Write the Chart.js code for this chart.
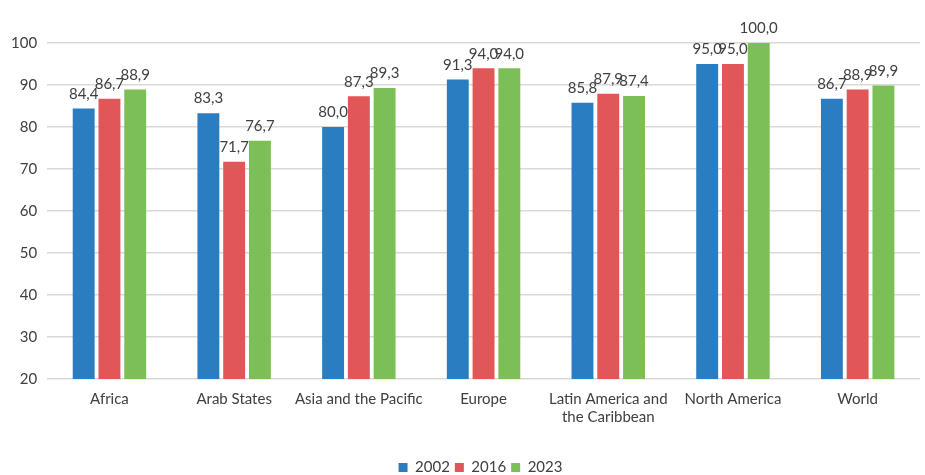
<!DOCTYPE html>
<html>
<head>
<meta charset="utf-8">
<script src="https://cdn.jsdelivr.net/npm/chart.js@4.4.1/dist/chart.umd.min.js"></script>
<style>
  html, body { margin: 0; padding: 0; background: #fff; }
  #wrap { width: 925px; height: 475px; position: relative; }
</style>
</head>
<body>
<div id="wrap"><canvas id="c" width="925" height="475"></canvas></div>
<script>
const categories = [
  'Africa', 'Arab States', 'Asia and the Pacific', 'Europe',
  ['Latin America and', 'the Caribbean'], 'North America', 'World'
];
const seriesNames = ['2002', '2016', '2023'];
const values2002 = [84.4, 83.3, 80.0, 91.3, 85.8, 95.0, 86.7];
const values2016 = [86.7, 71.7, 87.3, 94.0, 87.9, 95.0, 88.9];
const values2023 = [88.9, 76.7, 89.3, 94.0, 87.4, 100.0, 89.9];
const yTicks = [20, 30, 40, 50, 60, 70, 80, 90, 100];

const colors = ['#2a7dc0', '#e15656', '#7dbf57'];
const textColor = '#404040';
const fontFamily = 'Lato, "Open Sans", sans-serif';

// Value labels above each bar, decimal comma
const valueLabels = {
  id: 'valueLabels',
  afterDatasetsDraw(chart) {
    const ctx = chart.ctx;
    ctx.save();
    ctx.font = '15px ' + fontFamily;
    ctx.fillStyle = textColor;
    ctx.textAlign = 'center';
    ctx.textBaseline = 'bottom';
    chart.data.datasets.forEach((ds, i) => {
      chart.getDatasetMeta(i).data.forEach((bar, j) => {
        const txt = ds.data[j].toFixed(1).replace('.', ',');
        ctx.fillText(txt, bar.x, bar.y - 7);
      });
    });
    ctx.restore();
  }
};

// Nudge the legend a little to the right of centre
const legendShift = {
  id: 'legendShift',
  afterLayout(chart) {
    const lg = chart.legend;
    if (!lg) return;
    lg.left += 20;
    lg.right += 20;
    if (lg.legendHitBoxes) lg.legendHitBoxes.forEach(b => { b.left += 20; });
  }
};

new Chart(document.getElementById('c'), {
  type: 'bar',
  data: {
    labels: categories,
    datasets: [values2002, values2016, values2023].map((d, i) => ({
      label: seriesNames[i],
      data: d,
      backgroundColor: colors[i],
      borderWidth: 0,
      categoryPercentage: 0.62,
      barPercentage: 0.85
    }))
  },
  options: {
    responsive: false,
    animation: false,
    layout: { padding: { left: 1, right: 5, top: 43, bottom: -10 } },
    scales: {
      x: {
        grid: { display: false },
        border: { display: false },
        // extra room below the category labels, above the legend
        afterFit(axis) { axis.height += 26; },
        ticks: {
          color: textColor,
          font: { family: fontFamily, size: 15 },
          padding: 3,
          maxRotation: 0,
          autoSkip: false
        }
      },
      y: {
        min: 20,
        max: 100,
        afterBuildTicks(axis) { axis.ticks = yTicks.map(v => ({ value: v })); },
        grid: { color: '#d9d9d9', lineWidth: 1.5, drawTicks: false },
        border: { display: false },
        ticks: {
          color: textColor,
          font: { family: fontFamily, size: 15 },
          padding: 10
        }
      }
    },
    plugins: {
      legend: {
        position: 'bottom',
        labels: {
          color: textColor,
          font: { family: fontFamily, size: 15 },
          boxWidth: 9,
          boxHeight: 9,
          padding: 5
        }
      },
      tooltip: { enabled: false }
    }
  },
  plugins: [valueLabels, legendShift]
});
</script>
</body>
</html>
